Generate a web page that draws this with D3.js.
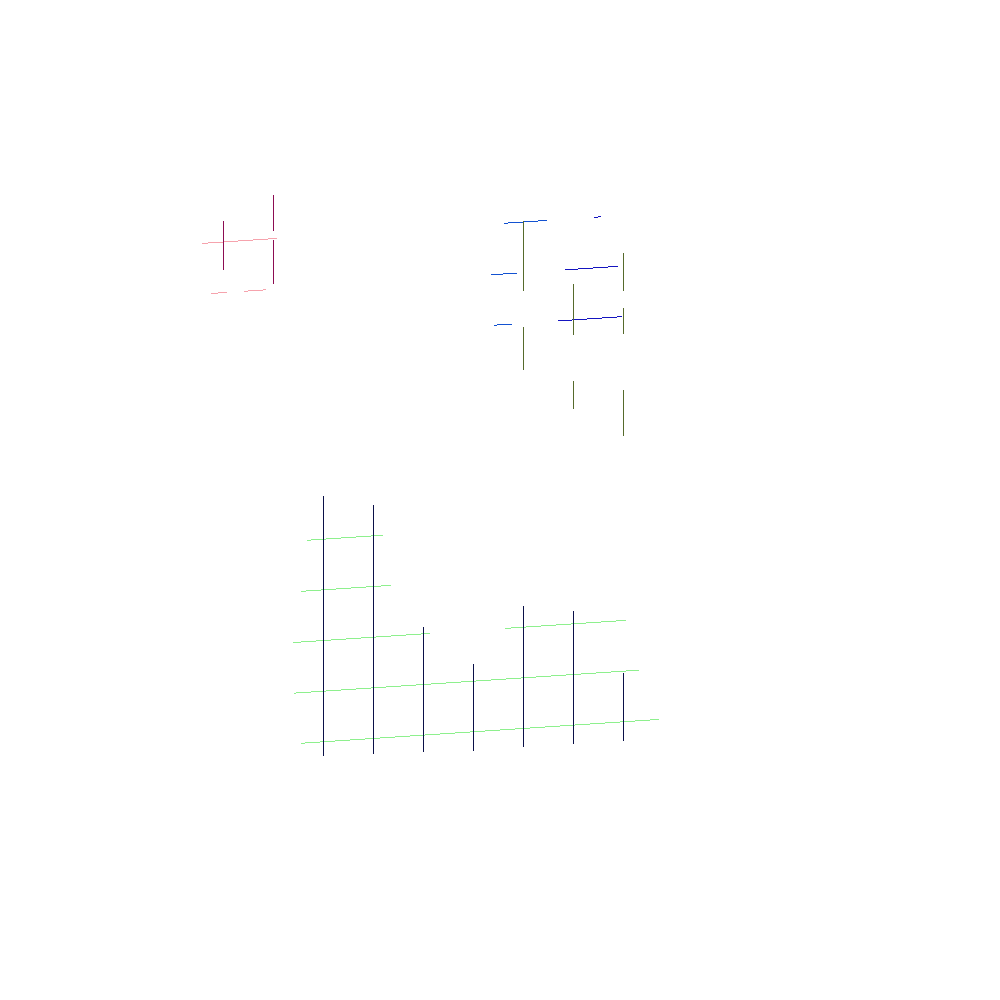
<!DOCTYPE html>
<html><head><meta charset="utf-8">
<script src="https://cdn.jsdelivr.net/npm/d3@7"></script>
<style>html,body{margin:0;padding:0;background:#fff;}</style>
</head><body>
<script>
// Column categories (index positions) and levels
const columns = [0,1,2,3,4,5,6,7,8];
const levels = [0,1,2,3,4,5,6,7,8,9,10];

// Vertical rules: [column, fromLevel, toLevel]
const pinkRules  = [[0, 9.45, 10.41], [1, 10.16, 10.86], [1, 9.11, 9.97]];
const oliveRules = [[6, 8.64, 10.01], [6, 7.07, 7.93], [7, 7.71, 8.71], [7, 6.25, 6.79],
                    [8, 8.51, 9.26], [8, 7.66, 8.17], [8, 5.65, 6.55]];
const navyRules  = [[2, -0.29, 4.85], [3, -0.31, 4.61], [4, -0.33, 2.14], [5, -0.37, 1.34],
                    [6, -0.36, 2.42], [7, -0.37, 2.25], [8, -0.37, 0.96]];

// Level lines: [level, fromColumn, toColumn]
const pinkLines      = [[10, -0.43, 1.07], [9, -0.25, 0.07], [9, 0.41, 0.85]];
const lightBlueLines = [[10, 5.61, 6.47], [9, 5.35, 5.87], [8, 5.41, 5.77]];
const darkBlueLines  = [[10, 7.41, 7.55], [9, 6.83, 7.89], [8, 6.69, 7.97]];
const greenLines     = [[4, 1.67, 3.19], [3, 1.55, 3.35], [2, 1.39, 4.13], [2, 5.63, 8.05],
                        [1, 1.41, 8.31], [0, 1.55, 8.71]];

const W = 1000, H = 1000;
const svg = d3.select("body").append("svg").attr("width", W).attr("height", H)
  .style("display","block");

const x = d3.scaleLinear().domain([0, 8]).range([223.5, 623.5]);
const y = d3.scaleLinear().domain([0, 10]).range([741.8, 235.3]);
const slope = -1/15;
const ref = x(2);
const py = (c, L) => y(L) + slope * (x(c) - ref);

function rules(data, color) {
  svg.append("g").selectAll("line").data(data).join("line")
    .attr("x1", d => x(d[0])).attr("x2", d => x(d[0]))
    .attr("y1", d => py(d[0], d[1])).attr("y2", d => py(d[0], d[2]))
    .attr("stroke", color).attr("stroke-width", 1.2)
    .attr("shape-rendering", "crispEdges");
}
function levelLines(data, color) {
  svg.append("g").selectAll("line").data(data).join("line")
    .attr("x1", d => x(d[1])).attr("x2", d => x(d[2]))
    .attr("y1", d => py(d[1], d[0])).attr("y2", d => py(d[2], d[0]))
    .attr("stroke", color).attr("stroke-width", 1)
    .attr("shape-rendering", "crispEdges");
}

levelLines(pinkLines, "#f6a3ad");
levelLines(lightBlueLines, "#1352d1");
levelLines(darkBlueLines, "#1515c0");
levelLines(greenLines, "#8ef08e");
rules(pinkRules, "#8c0c52");
rules(oliveRules, "#566a2c");
rules(navyRules, "#0a1048");
</script>
</body></html>
